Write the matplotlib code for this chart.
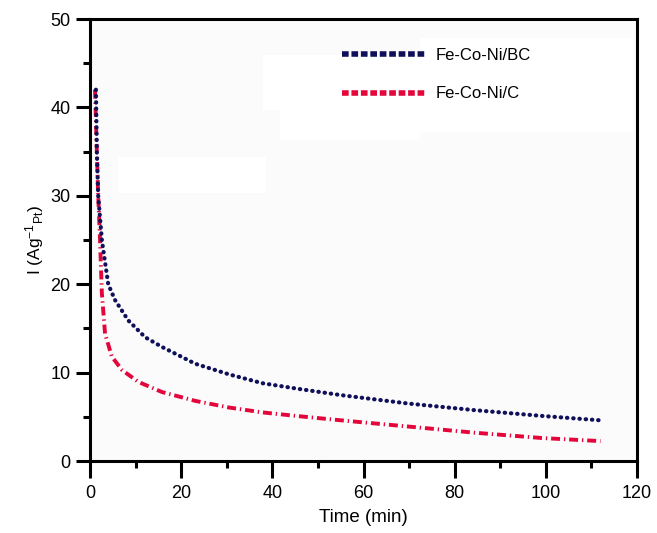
import matplotlib
matplotlib.use("Agg")
import matplotlib.pyplot as plt
from matplotlib.lines import Line2D
from matplotlib.patches import Rectangle
from matplotlib.ticker import MultipleLocator

plt.rcParams['font.family'] = ['Liberation Sans', 'DejaVu Sans']
plt.rcParams['mathtext.fontset'] = 'custom'
plt.rcParams['mathtext.rm'] = 'Liberation Sans'
plt.rcParams['mathtext.it'] = 'Liberation Sans:italic'

# Data
bc_time = [1.3, 1.5, 1.8, 2.6, 4.0, 5.5, 8.4, 12.1, 15.8, 23.1, 30.5, 37.8,
           45.2, 55.1, 69.8, 84.4, 99.1, 112]
bc_current = [42, 35, 30, 25, 20, 18.2, 15.9, 14.0, 12.9, 11.0, 9.8, 8.8,
              8.2, 7.45, 6.5, 5.75, 5.1, 4.6]
c_time = [1.1, 1.5, 1.8, 2.2, 2.6, 3.3, 4.8, 7.0, 10.6, 15.8, 23.1, 30.5,
          37.8, 45.2, 55.1, 69.8, 84.4, 99.1, 112]
c_current = [42, 35, 30, 25, 19, 14.4, 11.8, 10.3, 8.95, 7.8, 6.8, 6.05,
             5.5, 5.1, 4.6, 3.9, 3.2, 2.6, 2.25]
labels = ["Fe-Co-Ni/BC", "Fe-Co-Ni/C"]
x_ticks = [0, 20, 40, 60, 80, 100, 120]
y_ticks = [0, 10, 20, 30, 40, 50]

blue = "#10105a"
red = "#e4053a"
bg = "#fbfbfc"

fig = plt.figure(figsize=(6.57, 5.33), dpi=100)
ax = fig.add_axes([90/657, 1-461/533, (637-90)/657, (461-19)/533])

# axes background with faint white blocks as in the reference
fig.patches.append(Rectangle((90/657, 1-461/533), (637-90)/657, (461-19)/533,
                             transform=fig.transFigure, facecolor=bg,
                             edgecolor="none", zorder=0.1))
for (x0, y0, x1, y1) in [(118, 157, 266, 193), (263, 55, 420, 110),
                         (280, 110, 420, 140), (420, 38, 633, 132)]:
    fig.patches.append(Rectangle((x0/657, 1-y1/533), (x1-x0)/657, (y1-y0)/533,
                                 transform=fig.transFigure, facecolor="white",
                                 edgecolor="none", zorder=0.5))
ax.set_zorder(1)
ax.patch.set_alpha(0)

ax.plot(bc_time, bc_current, color=blue, lw=3.0, linestyle=(0, (0.1, 1.4)),
        dash_capstyle='round', solid_joinstyle='round', zorder=3)
ax.plot(c_time, c_current, color=red, lw=2.8, linestyle=(0, (2.3, 1.0, 0.35, 1.0)),
        dash_capstyle='butt', zorder=2)

ax.set_xlim(0, 120)
ax.set_ylim(0, 50)
ax.set_xticks(x_ticks)
ax.set_yticks(y_ticks)
ax.xaxis.set_minor_locator(MultipleLocator(10))
ax.yaxis.set_minor_locator(MultipleLocator(5))
ax.tick_params(which='major', direction='out', width=2.2, labelsize=13)
ax.tick_params(axis='x', which='major', length=12, pad=5)
ax.tick_params(axis='y', which='major', length=10, pad=4)
ax.tick_params(which='minor', direction='out', length=5, width=2.2)
for s in ax.spines.values():
    s.set_linewidth(2.2)

ax.set_xlabel("Time (min)", fontsize=13.5, labelpad=5)
ax.set_ylabel(r"I (Ag$^{-1}$$_{\rm Pt}$)", fontsize=12.5, labelpad=3)

handles = [Line2D([], [], color=blue, lw=4, linestyle=(0, (1.2, 0.5))),
           Line2D([], [], color=red, lw=4, linestyle=(0, (1.2, 0.5)))]
ax.legend(handles, labels, loc='upper left', bbox_to_anchor=(0.498, 0.938),
          bbox_transform=fig.transFigure, frameon=False, fontsize=12,
          handlelength=5.1, handletextpad=0.5, labelspacing=1.4)

fig.savefig("out.png", dpi=100)
